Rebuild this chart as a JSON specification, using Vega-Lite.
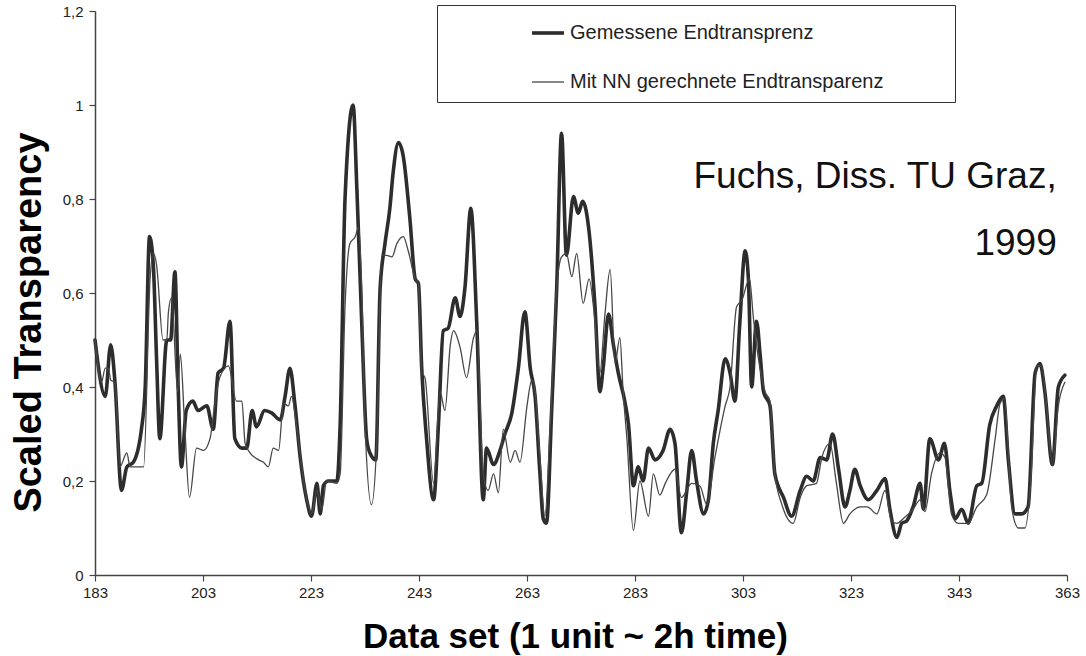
{
"$schema": "https://vega.github.io/schema/vega-lite/v6.json",
"width": 972, "height": 564,
"autosize": "none",
"padding": {"left": 95, "top": 11, "right": 19, "bottom": 81},
"background": "white",
"config": {"view": {"stroke": null}, "font": "Liberation Sans"},
"datasets": {
"series": [
{"x":183,"v":0.50,"s":"Gemessene Endtransprenz"},{"x":184.9,"v":0.38,"s":"Gemessene Endtransprenz"},{"x":185.9,"v":0.49,"s":"Gemessene Endtransprenz"},{"x":186.7,"v":0.41,"s":"Gemessene Endtransprenz"},{"x":187.9,"v":0.18,"s":"Gemessene Endtransprenz"},{"x":188.9,"v":0.23,"s":"Gemessene Endtransprenz"},{"x":190.1,"v":0.24,"s":"Gemessene Endtransprenz"},{"x":191.6,"v":0.31,"s":"Gemessene Endtransprenz"},{"x":192.3,"v":0.40,"s":"Gemessene Endtransprenz"},{"x":193.1,"v":0.72,"s":"Gemessene Endtransprenz"},{"x":193.8,"v":0.66,"s":"Gemessene Endtransprenz"},{"x":194.4,"v":0.46,"s":"Gemessene Endtransprenz"},{"x":195.0,"v":0.29,"s":"Gemessene Endtransprenz"},{"x":196.3,"v":0.50,"s":"Gemessene Endtransprenz"},{"x":197.0,"v":0.50,"s":"Gemessene Endtransprenz"},{"x":197.8,"v":0.645,"s":"Gemessene Endtransprenz"},{"x":198.4,"v":0.40,"s":"Gemessene Endtransprenz"},{"x":199.0,"v":0.23,"s":"Gemessene Endtransprenz"},{"x":199.9,"v":0.35,"s":"Gemessene Endtransprenz"},{"x":201.1,"v":0.37,"s":"Gemessene Endtransprenz"},{"x":202.1,"v":0.35,"s":"Gemessene Endtransprenz"},{"x":203.7,"v":0.36,"s":"Gemessene Endtransprenz"},{"x":204.9,"v":0.31,"s":"Gemessene Endtransprenz"},{"x":205.8,"v":0.43,"s":"Gemessene Endtransprenz"},{"x":206.8,"v":0.44,"s":"Gemessene Endtransprenz"},{"x":208.0,"v":0.54,"s":"Gemessene Endtransprenz"},{"x":208.9,"v":0.29,"s":"Gemessene Endtransprenz"},{"x":210.2,"v":0.27,"s":"Gemessene Endtransprenz"},{"x":211.1,"v":0.27,"s":"Gemessene Endtransprenz"},{"x":212.1,"v":0.35,"s":"Gemessene Endtransprenz"},{"x":212.9,"v":0.315,"s":"Gemessene Endtransprenz"},{"x":214.4,"v":0.35,"s":"Gemessene Endtransprenz"},{"x":215.7,"v":0.345,"s":"Gemessene Endtransprenz"},{"x":217.3,"v":0.33,"s":"Gemessene Endtransprenz"},{"x":218.2,"v":0.38,"s":"Gemessene Endtransprenz"},{"x":219.1,"v":0.44,"s":"Gemessene Endtransprenz"},{"x":220.0,"v":0.365,"s":"Gemessene Endtransprenz"},{"x":221.0,"v":0.25,"s":"Gemessene Endtransprenz"},{"x":222.2,"v":0.16,"s":"Gemessene Endtransprenz"},{"x":223.1,"v":0.125,"s":"Gemessene Endtransprenz"},{"x":224.1,"v":0.195,"s":"Gemessene Endtransprenz"},{"x":224.7,"v":0.13,"s":"Gemessene Endtransprenz"},{"x":225.3,"v":0.19,"s":"Gemessene Endtransprenz"},{"x":226.2,"v":0.20,"s":"Gemessene Endtransprenz"},{"x":227.8,"v":0.20,"s":"Gemessene Endtransprenz"},{"x":228.4,"v":0.32,"s":"Gemessene Endtransprenz"},{"x":229.3,"v":0.80,"s":"Gemessene Endtransprenz"},{"x":230.8,"v":1.0,"s":"Gemessene Endtransprenz"},{"x":231.5,"v":0.82,"s":"Gemessene Endtransprenz"},{"x":232.4,"v":0.535,"s":"Gemessene Endtransprenz"},{"x":233.3,"v":0.29,"s":"Gemessene Endtransprenz"},{"x":233.9,"v":0.26,"s":"Gemessene Endtransprenz"},{"x":235.0,"v":0.245,"s":"Gemessene Endtransprenz"},{"x":235.8,"v":0.61,"s":"Gemessene Endtransprenz"},{"x":236.7,"v":0.705,"s":"Gemessene Endtransprenz"},{"x":237.6,"v":0.78,"s":"Gemessene Endtransprenz"},{"x":238.2,"v":0.855,"s":"Gemessene Endtransprenz"},{"x":239.2,"v":0.92,"s":"Gemessene Endtransprenz"},{"x":240.1,"v":0.89,"s":"Gemessene Endtransprenz"},{"x":241.3,"v":0.76,"s":"Gemessene Endtransprenz"},{"x":242.3,"v":0.63,"s":"Gemessene Endtransprenz"},{"x":242.9,"v":0.62,"s":"Gemessene Endtransprenz"},{"x":243.5,"v":0.44,"s":"Gemessene Endtransprenz"},{"x":244.4,"v":0.29,"s":"Gemessene Endtransprenz"},{"x":245.7,"v":0.16,"s":"Gemessene Endtransprenz"},{"x":246.6,"v":0.32,"s":"Gemessene Endtransprenz"},{"x":247.5,"v":0.52,"s":"Gemessene Endtransprenz"},{"x":248.4,"v":0.525,"s":"Gemessene Endtransprenz"},{"x":249.7,"v":0.59,"s":"Gemessene Endtransprenz"},{"x":250.6,"v":0.55,"s":"Gemessene Endtransprenz"},{"x":251.5,"v":0.61,"s":"Gemessene Endtransprenz"},{"x":252.6,"v":0.78,"s":"Gemessene Endtransprenz"},{"x":253.7,"v":0.535,"s":"Gemessene Endtransprenz"},{"x":254.9,"v":0.16,"s":"Gemessene Endtransprenz"},{"x":255.5,"v":0.27,"s":"Gemessene Endtransprenz"},{"x":256.8,"v":0.235,"s":"Gemessene Endtransprenz"},{"x":258.0,"v":0.265,"s":"Gemessene Endtransprenz"},{"x":258.9,"v":0.30,"s":"Gemessene Endtransprenz"},{"x":260.2,"v":0.345,"s":"Gemessene Endtransprenz"},{"x":261.4,"v":0.44,"s":"Gemessene Endtransprenz"},{"x":262.6,"v":0.56,"s":"Gemessene Endtransprenz"},{"x":263.6,"v":0.44,"s":"Gemessene Endtransprenz"},{"x":264.5,"v":0.38,"s":"Gemessene Endtransprenz"},{"x":265.4,"v":0.215,"s":"Gemessene Endtransprenz"},{"x":266.0,"v":0.12,"s":"Gemessene Endtransprenz"},{"x":266.6,"v":0.11,"s":"Gemessene Endtransprenz"},{"x":267.6,"v":0.36,"s":"Gemessene Endtransprenz"},{"x":268.5,"v":0.61,"s":"Gemessene Endtransprenz"},{"x":269.4,"v":0.94,"s":"Gemessene Endtransprenz"},{"x":270.3,"v":0.68,"s":"Gemessene Endtransprenz"},{"x":271.6,"v":0.805,"s":"Gemessene Endtransprenz"},{"x":272.5,"v":0.77,"s":"Gemessene Endtransprenz"},{"x":273.3,"v":0.795,"s":"Gemessene Endtransprenz"},{"x":274.5,"v":0.73,"s":"Gemessene Endtransprenz"},{"x":275.6,"v":0.57,"s":"Gemessene Endtransprenz"},{"x":276.5,"v":0.39,"s":"Gemessene Endtransprenz"},{"x":277.1,"v":0.44,"s":"Gemessene Endtransprenz"},{"x":278.1,"v":0.555,"s":"Gemessene Endtransprenz"},{"x":279.0,"v":0.49,"s":"Gemessene Endtransprenz"},{"x":279.9,"v":0.43,"s":"Gemessene Endtransprenz"},{"x":281.1,"v":0.37,"s":"Gemessene Endtransprenz"},{"x":281.8,"v":0.32,"s":"Gemessene Endtransprenz"},{"x":282.7,"v":0.19,"s":"Gemessene Endtransprenz"},{"x":283.6,"v":0.23,"s":"Gemessene Endtransprenz"},{"x":284.5,"v":0.20,"s":"Gemessene Endtransprenz"},{"x":285.5,"v":0.27,"s":"Gemessene Endtransprenz"},{"x":286.7,"v":0.245,"s":"Gemessene Endtransprenz"},{"x":288.2,"v":0.265,"s":"Gemessene Endtransprenz"},{"x":289.5,"v":0.31,"s":"Gemessene Endtransprenz"},{"x":290.4,"v":0.28,"s":"Gemessene Endtransprenz"},{"x":291.6,"v":0.09,"s":"Gemessene Endtransprenz"},{"x":292.6,"v":0.18,"s":"Gemessene Endtransprenz"},{"x":293.5,"v":0.265,"s":"Gemessene Endtransprenz"},{"x":294.4,"v":0.20,"s":"Gemessene Endtransprenz"},{"x":295.7,"v":0.13,"s":"Gemessene Endtransprenz"},{"x":296.6,"v":0.16,"s":"Gemessene Endtransprenz"},{"x":297.5,"v":0.28,"s":"Gemessene Endtransprenz"},{"x":298.4,"v":0.35,"s":"Gemessene Endtransprenz"},{"x":299.7,"v":0.46,"s":"Gemessene Endtransprenz"},{"x":300.6,"v":0.43,"s":"Gemessene Endtransprenz"},{"x":301.5,"v":0.37,"s":"Gemessene Endtransprenz"},{"x":302.4,"v":0.535,"s":"Gemessene Endtransprenz"},{"x":303.4,"v":0.69,"s":"Gemessene Endtransprenz"},{"x":304.0,"v":0.63,"s":"Gemessene Endtransprenz"},{"x":304.6,"v":0.40,"s":"Gemessene Endtransprenz"},{"x":305.5,"v":0.54,"s":"Gemessene Endtransprenz"},{"x":306.2,"v":0.465,"s":"Gemessene Endtransprenz"},{"x":306.8,"v":0.39,"s":"Gemessene Endtransprenz"},{"x":308.0,"v":0.36,"s":"Gemessene Endtransprenz"},{"x":308.9,"v":0.215,"s":"Gemessene Endtransprenz"},{"x":310.5,"v":0.165,"s":"Gemessene Endtransprenz"},{"x":312.0,"v":0.125,"s":"Gemessene Endtransprenz"},{"x":313.6,"v":0.18,"s":"Gemessene Endtransprenz"},{"x":314.8,"v":0.21,"s":"Gemessene Endtransprenz"},{"x":316.0,"v":0.20,"s":"Gemessene Endtransprenz"},{"x":317.3,"v":0.25,"s":"Gemessene Endtransprenz"},{"x":318.5,"v":0.245,"s":"Gemessene Endtransprenz"},{"x":319.6,"v":0.30,"s":"Gemessene Endtransprenz"},{"x":320.7,"v":0.225,"s":"Gemessene Endtransprenz"},{"x":321.9,"v":0.145,"s":"Gemessene Endtransprenz"},{"x":322.8,"v":0.18,"s":"Gemessene Endtransprenz"},{"x":323.7,"v":0.225,"s":"Gemessene Endtransprenz"},{"x":324.7,"v":0.19,"s":"Gemessene Endtransprenz"},{"x":326.2,"v":0.16,"s":"Gemessene Endtransprenz"},{"x":327.8,"v":0.18,"s":"Gemessene Endtransprenz"},{"x":329.3,"v":0.205,"s":"Gemessene Endtransprenz"},{"x":330.2,"v":0.14,"s":"Gemessene Endtransprenz"},{"x":331.5,"v":0.08,"s":"Gemessene Endtransprenz"},{"x":332.4,"v":0.11,"s":"Gemessene Endtransprenz"},{"x":333.3,"v":0.115,"s":"Gemessene Endtransprenz"},{"x":334.5,"v":0.145,"s":"Gemessene Endtransprenz"},{"x":335.8,"v":0.195,"s":"Gemessene Endtransprenz"},{"x":336.4,"v":0.14,"s":"Gemessene Endtransprenz"},{"x":337.6,"v":0.29,"s":"Gemessene Endtransprenz"},{"x":339.2,"v":0.245,"s":"Gemessene Endtransprenz"},{"x":340.3,"v":0.28,"s":"Gemessene Endtransprenz"},{"x":341.3,"v":0.18,"s":"Gemessene Endtransprenz"},{"x":342.3,"v":0.12,"s":"Gemessene Endtransprenz"},{"x":343.5,"v":0.14,"s":"Gemessene Endtransprenz"},{"x":344.7,"v":0.11,"s":"Gemessene Endtransprenz"},{"x":346.3,"v":0.19,"s":"Gemessene Endtransprenz"},{"x":347.2,"v":0.195,"s":"Gemessene Endtransprenz"},{"x":348.7,"v":0.32,"s":"Gemessene Endtransprenz"},{"x":350.0,"v":0.36,"s":"Gemessene Endtransprenz"},{"x":351.2,"v":0.38,"s":"Gemessene Endtransprenz"},{"x":352.1,"v":0.25,"s":"Gemessene Endtransprenz"},{"x":353.4,"v":0.13,"s":"Gemessene Endtransprenz"},{"x":354.6,"v":0.13,"s":"Gemessene Endtransprenz"},{"x":355.8,"v":0.145,"s":"Gemessene Endtransprenz"},{"x":357.1,"v":0.43,"s":"Gemessene Endtransprenz"},{"x":358.0,"v":0.45,"s":"Gemessene Endtransprenz"},{"x":358.9,"v":0.39,"s":"Gemessene Endtransprenz"},{"x":360.3,"v":0.235,"s":"Gemessene Endtransprenz"},{"x":361.4,"v":0.40,"s":"Gemessene Endtransprenz"},{"x":362.6,"v":0.425,"s":"Gemessene Endtransprenz"},
{"x":183,"v":0.50,"s":"Mit NN gerechnete Endtransparenz"},{"x":184.2,"v":0.41,"s":"Mit NN gerechnete Endtransparenz"},{"x":184.9,"v":0.44,"s":"Mit NN gerechnete Endtransparenz"},{"x":185.5,"v":0.44,"s":"Mit NN gerechnete Endtransparenz"},{"x":185.9,"v":0.415,"s":"Mit NN gerechnete Endtransparenz"},{"x":186.7,"v":0.41,"s":"Mit NN gerechnete Endtransparenz"},{"x":187.6,"v":0.23,"s":"Mit NN gerechnete Endtransparenz"},{"x":188.9,"v":0.26,"s":"Mit NN gerechnete Endtransparenz"},{"x":189.5,"v":0.23,"s":"Mit NN gerechnete Endtransparenz"},{"x":190.7,"v":0.23,"s":"Mit NN gerechnete Endtransparenz"},{"x":192.0,"v":0.23,"s":"Mit NN gerechnete Endtransparenz"},{"x":193.2,"v":0.63,"s":"Mit NN gerechnete Endtransparenz"},{"x":193.8,"v":0.685,"s":"Mit NN gerechnete Endtransparenz"},{"x":194.4,"v":0.66,"s":"Mit NN gerechnete Endtransparenz"},{"x":195.6,"v":0.50,"s":"Mit NN gerechnete Endtransparenz"},{"x":196.3,"v":0.50,"s":"Mit NN gerechnete Endtransparenz"},{"x":196.6,"v":0.56,"s":"Mit NN gerechnete Endtransparenz"},{"x":197.2,"v":0.59,"s":"Mit NN gerechnete Endtransparenz"},{"x":198.3,"v":0.39,"s":"Mit NN gerechnete Endtransparenz"},{"x":198.8,"v":0.47,"s":"Mit NN gerechnete Endtransparenz"},{"x":199.6,"v":0.32,"s":"Mit NN gerechnete Endtransparenz"},{"x":200.5,"v":0.165,"s":"Mit NN gerechnete Endtransparenz"},{"x":201.8,"v":0.27,"s":"Mit NN gerechnete Endtransparenz"},{"x":203.1,"v":0.265,"s":"Mit NN gerechnete Endtransparenz"},{"x":204.3,"v":0.29,"s":"Mit NN gerechnete Endtransparenz"},{"x":205.2,"v":0.365,"s":"Mit NN gerechnete Endtransparenz"},{"x":206.1,"v":0.42,"s":"Mit NN gerechnete Endtransparenz"},{"x":207.7,"v":0.445,"s":"Mit NN gerechnete Endtransparenz"},{"x":209.2,"v":0.37,"s":"Mit NN gerechnete Endtransparenz"},{"x":210.2,"v":0.37,"s":"Mit NN gerechnete Endtransparenz"},{"x":210.8,"v":0.28,"s":"Mit NN gerechnete Endtransparenz"},{"x":211.7,"v":0.26,"s":"Mit NN gerechnete Endtransparenz"},{"x":213.3,"v":0.245,"s":"Mit NN gerechnete Endtransparenz"},{"x":214.2,"v":0.24,"s":"Mit NN gerechnete Endtransparenz"},{"x":215.1,"v":0.23,"s":"Mit NN gerechnete Endtransparenz"},{"x":216.0,"v":0.27,"s":"Mit NN gerechnete Endtransparenz"},{"x":217.0,"v":0.265,"s":"Mit NN gerechnete Endtransparenz"},{"x":217.9,"v":0.365,"s":"Mit NN gerechnete Endtransparenz"},{"x":218.8,"v":0.36,"s":"Mit NN gerechnete Endtransparenz"},{"x":219.4,"v":0.38,"s":"Mit NN gerechnete Endtransparenz"},{"x":220.3,"v":0.32,"s":"Mit NN gerechnete Endtransparenz"},{"x":221.9,"v":0.18,"s":"Mit NN gerechnete Endtransparenz"},{"x":223.1,"v":0.13,"s":"Mit NN gerechnete Endtransparenz"},{"x":224.1,"v":0.18,"s":"Mit NN gerechnete Endtransparenz"},{"x":225.0,"v":0.14,"s":"Mit NN gerechnete Endtransparenz"},{"x":225.9,"v":0.20,"s":"Mit NN gerechnete Endtransparenz"},{"x":227.8,"v":0.195,"s":"Mit NN gerechnete Endtransparenz"},{"x":228.4,"v":0.215,"s":"Mit NN gerechnete Endtransparenz"},{"x":229.3,"v":0.57,"s":"Mit NN gerechnete Endtransparenz"},{"x":230.2,"v":0.705,"s":"Mit NN gerechnete Endtransparenz"},{"x":231.2,"v":0.72,"s":"Mit NN gerechnete Endtransparenz"},{"x":231.8,"v":0.74,"s":"Mit NN gerechnete Endtransparenz"},{"x":232.4,"v":0.61,"s":"Mit NN gerechnete Endtransparenz"},{"x":233.0,"v":0.32,"s":"Mit NN gerechnete Endtransparenz"},{"x":234.2,"v":0.15,"s":"Mit NN gerechnete Endtransparenz"},{"x":235.2,"v":0.29,"s":"Mit NN gerechnete Endtransparenz"},{"x":236.1,"v":0.68,"s":"Mit NN gerechnete Endtransparenz"},{"x":237.0,"v":0.68,"s":"Mit NN gerechnete Endtransparenz"},{"x":238.0,"v":0.677,"s":"Mit NN gerechnete Endtransparenz"},{"x":238.9,"v":0.705,"s":"Mit NN gerechnete Endtransparenz"},{"x":240.1,"v":0.72,"s":"Mit NN gerechnete Endtransparenz"},{"x":241.0,"v":0.69,"s":"Mit NN gerechnete Endtransparenz"},{"x":242.3,"v":0.63,"s":"Mit NN gerechnete Endtransparenz"},{"x":242.9,"v":0.62,"s":"Mit NN gerechnete Endtransparenz"},{"x":243.5,"v":0.43,"s":"Mit NN gerechnete Endtransparenz"},{"x":244.1,"v":0.42,"s":"Mit NN gerechnete Endtransparenz"},{"x":245.7,"v":0.195,"s":"Mit NN gerechnete Endtransparenz"},{"x":246.9,"v":0.39,"s":"Mit NN gerechnete Endtransparenz"},{"x":247.8,"v":0.35,"s":"Mit NN gerechnete Endtransparenz"},{"x":248.8,"v":0.49,"s":"Mit NN gerechnete Endtransparenz"},{"x":249.4,"v":0.52,"s":"Mit NN gerechnete Endtransparenz"},{"x":250.6,"v":0.485,"s":"Mit NN gerechnete Endtransparenz"},{"x":251.8,"v":0.42,"s":"Mit NN gerechnete Endtransparenz"},{"x":253.1,"v":0.505,"s":"Mit NN gerechnete Endtransparenz"},{"x":253.7,"v":0.52,"s":"Mit NN gerechnete Endtransparenz"},{"x":254.9,"v":0.215,"s":"Mit NN gerechnete Endtransparenz"},{"x":255.8,"v":0.18,"s":"Mit NN gerechnete Endtransparenz"},{"x":256.8,"v":0.215,"s":"Mit NN gerechnete Endtransparenz"},{"x":257.7,"v":0.175,"s":"Mit NN gerechnete Endtransparenz"},{"x":258.6,"v":0.31,"s":"Mit NN gerechnete Endtransparenz"},{"x":259.9,"v":0.24,"s":"Mit NN gerechnete Endtransparenz"},{"x":260.8,"v":0.265,"s":"Mit NN gerechnete Endtransparenz"},{"x":261.7,"v":0.24,"s":"Mit NN gerechnete Endtransparenz"},{"x":263.0,"v":0.36,"s":"Mit NN gerechnete Endtransparenz"},{"x":263.9,"v":0.415,"s":"Mit NN gerechnete Endtransparenz"},{"x":264.5,"v":0.39,"s":"Mit NN gerechnete Endtransparenz"},{"x":265.4,"v":0.25,"s":"Mit NN gerechnete Endtransparenz"},{"x":266.3,"v":0.125,"s":"Mit NN gerechnete Endtransparenz"},{"x":267.3,"v":0.32,"s":"Mit NN gerechnete Endtransparenz"},{"x":268.5,"v":0.61,"s":"Mit NN gerechnete Endtransparenz"},{"x":269.4,"v":0.677,"s":"Mit NN gerechnete Endtransparenz"},{"x":270.3,"v":0.684,"s":"Mit NN gerechnete Endtransparenz"},{"x":271.3,"v":0.635,"s":"Mit NN gerechnete Endtransparenz"},{"x":272.2,"v":0.684,"s":"Mit NN gerechnete Endtransparenz"},{"x":273.4,"v":0.578,"s":"Mit NN gerechnete Endtransparenz"},{"x":274.5,"v":0.63,"s":"Mit NN gerechnete Endtransparenz"},{"x":275.5,"v":0.55,"s":"Mit NN gerechnete Endtransparenz"},{"x":276.5,"v":0.43,"s":"Mit NN gerechnete Endtransparenz"},{"x":277.4,"v":0.55,"s":"Mit NN gerechnete Endtransparenz"},{"x":278.4,"v":0.65,"s":"Mit NN gerechnete Endtransparenz"},{"x":279.3,"v":0.45,"s":"Mit NN gerechnete Endtransparenz"},{"x":280.2,"v":0.505,"s":"Mit NN gerechnete Endtransparenz"},{"x":280.8,"v":0.39,"s":"Mit NN gerechnete Endtransparenz"},{"x":281.5,"v":0.29,"s":"Mit NN gerechnete Endtransparenz"},{"x":282.7,"v":0.095,"s":"Mit NN gerechnete Endtransparenz"},{"x":283.9,"v":0.20,"s":"Mit NN gerechnete Endtransparenz"},{"x":285.5,"v":0.125,"s":"Mit NN gerechnete Endtransparenz"},{"x":286.4,"v":0.215,"s":"Mit NN gerechnete Endtransparenz"},{"x":287.6,"v":0.17,"s":"Mit NN gerechnete Endtransparenz"},{"x":288.6,"v":0.195,"s":"Mit NN gerechnete Endtransparenz"},{"x":290.4,"v":0.225,"s":"Mit NN gerechnete Endtransparenz"},{"x":291.6,"v":0.165,"s":"Mit NN gerechnete Endtransparenz"},{"x":293.5,"v":0.195,"s":"Mit NN gerechnete Endtransparenz"},{"x":295.0,"v":0.19,"s":"Mit NN gerechnete Endtransparenz"},{"x":296.3,"v":0.15,"s":"Mit NN gerechnete Endtransparenz"},{"x":297.8,"v":0.25,"s":"Mit NN gerechnete Endtransparenz"},{"x":299.7,"v":0.36,"s":"Mit NN gerechnete Endtransparenz"},{"x":300.6,"v":0.40,"s":"Mit NN gerechnete Endtransparenz"},{"x":301.8,"v":0.57,"s":"Mit NN gerechnete Endtransparenz"},{"x":302.8,"v":0.585,"s":"Mit NN gerechnete Endtransparenz"},{"x":304.2,"v":0.63,"s":"Mit NN gerechnete Endtransparenz"},{"x":304.9,"v":0.55,"s":"Mit NN gerechnete Endtransparenz"},{"x":305.8,"v":0.465,"s":"Mit NN gerechnete Endtransparenz"},{"x":307.1,"v":0.39,"s":"Mit NN gerechnete Endtransparenz"},{"x":308.0,"v":0.37,"s":"Mit NN gerechnete Endtransparenz"},{"x":308.9,"v":0.215,"s":"Mit NN gerechnete Endtransparenz"},{"x":310.2,"v":0.15,"s":"Mit NN gerechnete Endtransparenz"},{"x":312.3,"v":0.11,"s":"Mit NN gerechnete Endtransparenz"},{"x":313.6,"v":0.165,"s":"Mit NN gerechnete Endtransparenz"},{"x":314.8,"v":0.19,"s":"Mit NN gerechnete Endtransparenz"},{"x":316.6,"v":0.195,"s":"Mit NN gerechnete Endtransparenz"},{"x":317.6,"v":0.25,"s":"Mit NN gerechnete Endtransparenz"},{"x":319.1,"v":0.28,"s":"Mit NN gerechnete Endtransparenz"},{"x":320.3,"v":0.195,"s":"Mit NN gerechnete Endtransparenz"},{"x":321.6,"v":0.11,"s":"Mit NN gerechnete Endtransparenz"},{"x":322.8,"v":0.13,"s":"Mit NN gerechnete Endtransparenz"},{"x":324.7,"v":0.145,"s":"Mit NN gerechnete Endtransparenz"},{"x":326.0,"v":0.145,"s":"Mit NN gerechnete Endtransparenz"},{"x":327.8,"v":0.13,"s":"Mit NN gerechnete Endtransparenz"},{"x":329.3,"v":0.18,"s":"Mit NN gerechnete Endtransparenz"},{"x":330.5,"v":0.115,"s":"Mit NN gerechnete Endtransparenz"},{"x":331.5,"v":0.11,"s":"Mit NN gerechnete Endtransparenz"},{"x":332.7,"v":0.12,"s":"Mit NN gerechnete Endtransparenz"},{"x":334.5,"v":0.14,"s":"Mit NN gerechnete Endtransparenz"},{"x":335.8,"v":0.16,"s":"Mit NN gerechnete Endtransparenz"},{"x":336.7,"v":0.135,"s":"Mit NN gerechnete Endtransparenz"},{"x":337.9,"v":0.215,"s":"Mit NN gerechnete Endtransparenz"},{"x":339.5,"v":0.26,"s":"Mit NN gerechnete Endtransparenz"},{"x":340.4,"v":0.25,"s":"Mit NN gerechnete Endtransparenz"},{"x":341.6,"v":0.13,"s":"Mit NN gerechnete Endtransparenz"},{"x":342.9,"v":0.11,"s":"Mit NN gerechnete Endtransparenz"},{"x":344.7,"v":0.11,"s":"Mit NN gerechnete Endtransparenz"},{"x":346.3,"v":0.145,"s":"Mit NN gerechnete Endtransparenz"},{"x":348.1,"v":0.17,"s":"Mit NN gerechnete Endtransparenz"},{"x":349.7,"v":0.29,"s":"Mit NN gerechnete Endtransparenz"},{"x":350.6,"v":0.365,"s":"Mit NN gerechnete Endtransparenz"},{"x":351.4,"v":0.375,"s":"Mit NN gerechnete Endtransparenz"},{"x":352.8,"v":0.14,"s":"Mit NN gerechnete Endtransparenz"},{"x":354.0,"v":0.10,"s":"Mit NN gerechnete Endtransparenz"},{"x":355.2,"v":0.10,"s":"Mit NN gerechnete Endtransparenz"},{"x":356.3,"v":0.20,"s":"Mit NN gerechnete Endtransparenz"},{"x":357.4,"v":0.445,"s":"Mit NN gerechnete Endtransparenz"},{"x":358.3,"v":0.445,"s":"Mit NN gerechnete Endtransparenz"},{"x":359.2,"v":0.36,"s":"Mit NN gerechnete Endtransparenz"},{"x":360.3,"v":0.235,"s":"Mit NN gerechnete Endtransparenz"},{"x":361.4,"v":0.36,"s":"Mit NN gerechnete Endtransparenz"},{"x":362.6,"v":0.41,"s":"Mit NN gerechnete Endtransparenz"}
],
"note": [{"note": "Fuchs, Diss. TU Graz,\n1999"}]
},
"layer": [
{
"data": {"name": "series"},
"mark": {"type": "line", "interpolate": "monotone", "strokeJoin": "round", "strokeCap": "round"},
"encoding": {
"x": {"field": "x", "type": "quantitative",
 "scale": {"domain": [183, 363], "nice": false, "zero": false},
 "axis": {"values": [183, 203, 223, 243, 263, 283, 303, 323, 343, 363], "grid": false,
  "title": "Data set (1 unit ~ 2h time)", "titleFont": "Liberation Sans", "titleFontSize": 35, "titleFontWeight": "bold", "titleColor": "#000",
  "titleX": 480, "titleY": 72, "titleBaseline": "alphabetic", "titleAlign": "center", "titleAnchor": null,
  "labelFont": "Liberation Sans Narrow, Liberation Sans", "labelFontSize": 15, "labelColor": "#222", "labelPadding": 4, "labelFlush": false,
  "tickSize": 6, "tickColor": "#444", "tickWidth": 1.2, "domainColor": "#444", "domainWidth": 1.5}},
"y": {"field": "v", "type": "quantitative",
 "scale": {"domain": [0, 1.2], "nice": false, "zero": true},
 "axis": {"values": [0, 0.2, 0.4, 0.6, 0.8, 1, 1.2], "grid": false,
  "labelExpr": "replace(format(datum.value, '.1~f'), '.', ',')",
  "title": "Scaled Transparency", "titleFont": "Liberation Sans", "titleFontSize": 38, "titleFontWeight": "bold", "titleColor": "#000",
  "titleX": -55, "titleY": 311, "titleAngle": 270, "titleBaseline": "alphabetic", "titleAlign": "center", "titleAnchor": null,
  "labelFont": "Liberation Sans Narrow, Liberation Sans", "labelFontSize": 15, "labelColor": "#222", "labelPadding": 6,
  "tickSize": 6, "tickColor": "#444", "tickWidth": 1.2, "domainColor": "#444", "domainWidth": 1.5}},
"color": {"field": "s", "type": "nominal",
 "scale": {"domain": ["Gemessene Endtransprenz", "Mit NN gerechnete Endtransparenz"], "range": ["#2d2d2d", "#474747"]},
 "legend": {"title": " ", "titleOrient": "right", "titleFontSize": 1, "titlePadding": 62, "orient": "none", "legendX": 342, "legendY": -6, "direction": "vertical", "symbolType": "stroke", "symbolSize": 1024, "symbolOffset": 83, "labelFont": "Liberation Sans", "labelFontSize": 20, "labelColor": "#222", "labelOffset": 4, "rowPadding": 22, "padding": 10, "fillColor": "white", "strokeColor": "#333", "labelLimit": 500}},
"strokeWidth": {"field": "s", "type": "nominal",
 "scale": {"domain": ["Gemessene Endtransprenz", "Mit NN gerechnete Endtransparenz"], "range": [3.6, 1.3]},
 "legend": {"title": " ", "titleOrient": "right", "titleFontSize": 1, "titlePadding": 62, "orient": "none", "legendX": 342, "legendY": -6, "direction": "vertical", "symbolType": "stroke", "symbolSize": 1024, "symbolOffset": 83, "labelFont": "Liberation Sans", "labelFontSize": 20, "labelColor": "#222", "labelOffset": 4, "rowPadding": 22, "padding": 10, "fillColor": "white", "strokeColor": "#333", "labelLimit": 500}}
}
},
{
"data": {"name": "note"},
"mark": {"type": "text", "align": "right", "baseline": "alphabetic", "lineBreak": "\n", "lineHeight": 67, "fontSize": 37, "font": "Liberation Sans", "color": "#111"},
"encoding": {"text": {"field": "note", "type": "nominal"}, "x": {"datum": 361.1, "type": "quantitative"}, "y": {"datum": 0.823, "type": "quantitative"}}
}
]
}
